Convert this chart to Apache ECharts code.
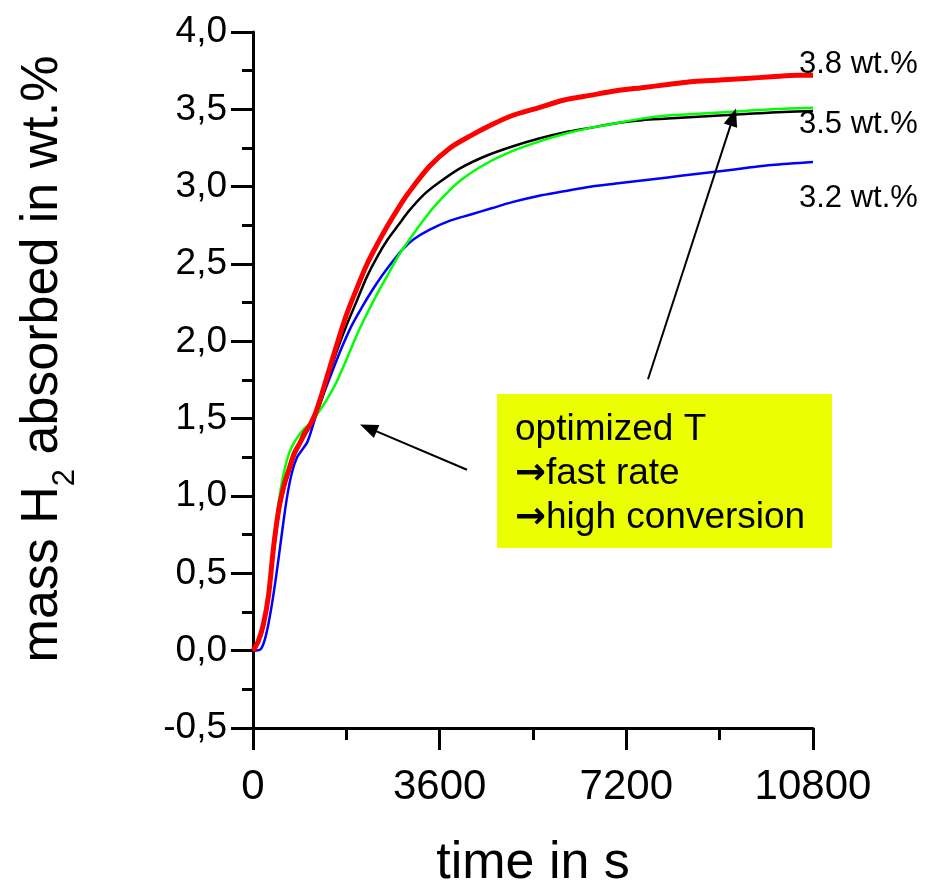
<!DOCTYPE html>
<html>
<head>
<meta charset="utf-8">
<script src="https://cdn.jsdelivr.net/npm/echarts@6/dist/echarts.min.js"></script>
<style>html,body{margin:0;padding:0;background:#fff}#c{width:933px;height:886px}</style>
</head>
<body>
<div id="c"></div>
<script>
const FONT = "'Liberation Sans', Arial, sans-serif";

// 3.8 wt.% (red)
const redT = [0,100,200,300,400,500,600,700,800,900,1000,1100,1200,1300,1400,1600,1800,2000,2200,2400,2600,2800,3000,3400,3800,4200,4600,5000,5500,6000,6500,7000,7500,8000,8500,9000,9500,10000,10500,10800];
const redV = [0,0.06,0.17,0.36,0.68,0.92,1.07,1.18,1.28,1.34,1.41,1.46,1.53,1.63,1.74,1.96,2.17,2.34,2.50,2.63,2.75,2.86,2.96,3.13,3.25,3.33,3.40,3.46,3.51,3.56,3.59,3.62,3.64,3.66,3.68,3.69,3.70,3.71,3.72,3.72];

// 3.5 wt.% (black)
const blackT = [0,100,200,300,400,500,600,700,800,900,1000,1100,1200,1300,1400,1600,1800,2000,2200,2400,2600,2800,3000,3300,3600,4000,4500,5000,5500,6000,6500,7000,7500,8000,8500,9000,9500,10000,10800];
const blackV = [0,0.05,0.15,0.34,0.64,0.89,1.05,1.16,1.26,1.33,1.39,1.45,1.51,1.60,1.71,1.92,2.10,2.26,2.42,2.55,2.66,2.75,2.84,2.95,3.03,3.12,3.20,3.26,3.31,3.35,3.38,3.41,3.43,3.44,3.45,3.46,3.47,3.48,3.49];

// green
const greenT = [0,100,200,300,400,500,600,700,800,900,1000,1100,1200,1300,1400,1600,1800,2000,2200,2400,2600,2800,3000,3300,3600,4000,4500,5000,5500,6000,6500,7000,7500,8000,8500,9000,9500,10000,10800];
const greenV = [0,0.06,0.17,0.37,0.70,0.97,1.16,1.28,1.35,1.40,1.44,1.47,1.51,1.56,1.61,1.73,1.88,2.04,2.18,2.31,2.43,2.55,2.65,2.79,2.91,3.04,3.15,3.23,3.29,3.34,3.38,3.41,3.44,3.46,3.47,3.48,3.49,3.50,3.51];

// 3.2 wt.% (blue)
const blueT = [0,150,250,350,450,550,650,750,850,950,1050,1150,1250,1350,1500,1700,1900,2100,2300,2500,2700,2900,3100,3400,3800,4200,4600,5000,5500,6000,6500,7000,7500,8000,8500,9000,9500,10000,10800];
const blueV = [0,0.01,0.10,0.27,0.49,0.74,0.98,1.15,1.25,1.30,1.35,1.45,1.56,1.65,1.78,1.95,2.10,2.22,2.33,2.43,2.52,2.60,2.66,2.72,2.78,2.82,2.86,2.90,2.94,2.97,3.00,3.02,3.04,3.06,3.08,3.10,3.12,3.14,3.16];

const xTicks = [0, 3600, 7200, 10800];
const yMin = -0.5, yMax = 4.0;
const curveLabels = ['3.8 wt.%', '3.5 wt.%', '3.2 wt.%'];
const boxLines = ['optimized T', 'fast rate', 'high conversion'];
// annotation arrows in data space: [tailT, tailV, headT, headV]
const arrow1 = [4127, 1.17, 2224, 1.44];
const arrow2 = [7618, 1.755, 9261, 3.45];

const zip = (t, v) => t.map((x, i) => [x, v[i]]);

const chart = echarts.init(document.getElementById('c'), null, {renderer: 'canvas'});

const lineSeries = (name, t, v, color, width, z) => ({
  name, type: 'line', data: zip(t, v), showSymbol: false, smooth: 0.3,
  lineStyle: {color, width}, z, silent: true, animation: false
});

const blackSeries = lineSeries('3.5 wt.%', blackT, blackV, '#000000', 2.5, 3);
blackSeries.markLine = {
  silent: true, animation: false,
  symbol: ['none', 'triangle'], symbolSize: [14, 18],
  lineStyle: {color: '#000', width: 2, type: 'solid'},
  label: {show: false},
  data: [
    [{coord: [arrow1[0], arrow1[1]]}, {coord: [arrow1[2], arrow1[3]]}],
    [{coord: [arrow2[0], arrow2[1]]}, {coord: [arrow2[2], arrow2[3]]}]
  ]
};

const boxText = (txt, y, arrow) => ({
  type: 'text', x: 515, y, z: 2,
  style: {
    text: arrow ? '{a|\u2192}' + txt : txt,
    font: '37px ' + FONT, fill: '#000', verticalAlign: 'middle',
    rich: {a: {fontFamily: "'DejaVu Sans'", fontSize: 37, fontWeight: 'bold', fill: '#000'}}
  }
});

chart.setOption({
  animation: false,
  backgroundColor: '#fff',
  grid: {left: 253, right: 120, top: 32, bottom: 158, containLabel: false, outerBoundsMode: 'none'},
  xAxis: {
    type: 'value', min: 0, max: 10800, interval: 3600,
    name: 'time in s', nameLocation: 'middle', nameGap: 110,
    nameTextStyle: {fontFamily: FONT, fontSize: 52, color: '#000'},
    axisLine: {onZero: false, lineStyle: {color: '#000', width: 3}},
    axisTick: {show: true, length: 22, inside: false, lineStyle: {color: '#000', width: 3}},
    minorTick: {show: true, splitNumber: 2, length: 12, lineStyle: {color: '#000', width: 3}},
    axisLabel: {fontFamily: FONT, fontSize: 42, color: '#000', margin: 38,
      formatter: v => String(v)},
    splitLine: {show: false}
  },
  yAxis: {
    type: 'value', min: yMin, max: yMax, interval: 0.5,
    name: 'mass H{sub|2} absorbed in wt.%', nameLocation: 'middle', nameGap: 184, nameRotate: 90,
    nameTextStyle: {fontFamily: FONT, fontSize: 52, color: '#000', padding: [0, 0, 0, 42],
      rich: {sub: {fontFamily: FONT, fontSize: 31, color: '#000', verticalAlign: 'bottom', padding: [0, 0, -12, 0]}}},
    axisLine: {show: true, lineStyle: {color: '#000', width: 3}},
    axisTick: {show: true, length: 22, lineStyle: {color: '#000', width: 3}},
    minorTick: {show: true, splitNumber: 2, length: 11, lineStyle: {color: '#000', width: 3}},
    axisLabel: {fontFamily: FONT, fontSize: 37, color: '#000', margin: 26,
      formatter: v => v.toFixed(1).replace('.', ',')},
    splitLine: {show: false}
  },
  series: [
    lineSeries('3.2 wt.%', blueT, blueV, '#0000ff', 2.5, 2),
    blackSeries,
    lineSeries('green', greenT, greenV, '#00ff00', 2.5, 4),
    lineSeries('3.8 wt.%', redT, redV, '#ff0000', 5, 5)
  ],
  graphic: [
    {type: 'rect', shape: {x: 497, y: 394, width: 335, height: 154}, style: {fill: '#ebff00'}, z: 1},
    boxText(boxLines[0], 430, false),
    boxText(boxLines[1], 474, true),
    boxText(boxLines[2], 518, true),
    {type: 'text', x: 799, y: 64, style: {text: curveLabels[0], font: '31px ' + FONT, fill: '#000', verticalAlign: 'middle'}, z: 10},
    {type: 'text', x: 799, y: 124, style: {text: curveLabels[1], font: '31px ' + FONT, fill: '#000', verticalAlign: 'middle'}, z: 10},
    {type: 'text', x: 799, y: 198, style: {text: curveLabels[2], font: '31px ' + FONT, fill: '#000', verticalAlign: 'middle'}, z: 10}
  ]
});
</script>
</body>
</html>
